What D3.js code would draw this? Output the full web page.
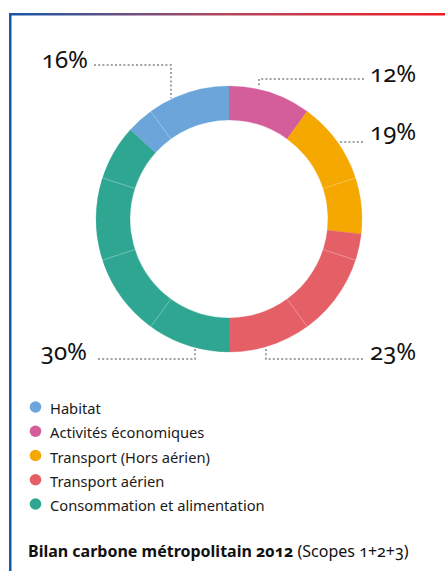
<!DOCTYPE html>
<html><head><meta charset="utf-8">
<script src="https://cdn.jsdelivr.net/npm/d3@7"></script>
<style>
html,body{margin:0;padding:0;background:#fff;}
svg{display:block;}
.pct{font-family:"Noto Sans";font-size:24px;fill:#111;font-variant-numeric:oldstyle-nums;font-feature-settings:"onum" 1;}
.leg{font-family:"Noto Sans";font-size:14.7px;fill:#1a1a1a;}
.ttl{font-family:"Noto Sans";font-size:16px;fill:#111;font-variant-numeric:oldstyle-nums;font-feature-settings:"onum" 1;}
</style></head>
<body>
<script>
// Categories in legend order
const categories = ["Habitat", "Activités économiques", "Transport (Hors aérien)", "Transport aérien", "Consommation et alimentation"];
const colors = ["#6ba5da", "#d45e9a", "#f5a800", "#e55f66", "#2fa692"];
// Printed percentage labels
const labelValues = [16, 12, 19, 23, 30];
// Arc shares as actually drawn in the ring
const arcShares = [13.3, 10, 16.8, 23.2, 36.7];
// Drawing order clockwise from 12 o'clock
const ringOrder = [1, 2, 3, 4, 0];
// Ring subdivided into ten equal ticks (faint separators)
const ringTicks = d3.range(10);
const titleBold = "Bilan carbone métropolitain 2012";
const titleRest = " (Scopes 1+2+3)";

const W = 445, H = 571;
const svg = d3.select("body").append("svg").attr("width", W).attr("height", H);

// frame
const grad = svg.append("defs").append("linearGradient").attr("id","g").attr("x1","0%").attr("x2","100%");
grad.append("stop").attr("offset","0%").attr("stop-color","#1658a8");
grad.append("stop").attr("offset","50%").attr("stop-color","#b5475e");
grad.append("stop").attr("offset","100%").attr("stop-color","#ee1c25");
svg.append("rect").attr("x",9).attr("y",13).attr("width",W-9).attr("height",2.5).attr("fill","url(#g)");
svg.append("rect").attr("x",9).attr("y",13).attr("width",2.5).attr("height",H-13).attr("fill","#1658a8");

const cx = 229, cy = 219, rO = 133, rI = 99;
const g = svg.append("g").attr("transform",`translate(${cx},${cy})`);

const pie = d3.pie().sort(null).value(i => arcShares[i]);
const arcs = pie(ringOrder);
const arc = d3.arc().innerRadius(rI).outerRadius(rO);
g.selectAll("path.seg").data(arcs).join("path").attr("class","seg")
  .attr("d", arc).attr("fill", d => colors[d.data]).attr("stroke", d => colors[d.data]).attr("stroke-width",0.3);

// faint separators every tenth of the ring (not where a category boundary falls)
const tickScale = d3.scaleLinear().domain([0,10]).range([0, 2*Math.PI]);
const bounds = arcs.map(a => a.startAngle);
const seps = ringTicks.filter(t => bounds.every(b => Math.abs(b - tickScale(t)) > 0.01));
g.selectAll("line.sep").data(seps).join("line").attr("class","sep")
  .attr("x1", t => rI*Math.sin(tickScale(t))).attr("y1", t => -rI*Math.cos(tickScale(t)))
  .attr("x2", t => rO*Math.sin(tickScale(t))).attr("y2", t => -rO*Math.cos(tickScale(t)))
  .attr("stroke","#ffffff").attr("stroke-opacity",0.45).attr("stroke-width",0.7);

// leader lines and labels (layout)
const ringY = (dx, sign) => cy + sign*Math.sqrt(rO*rO - dx*dx);
const layout = [
  {i:0, pts:[[94,65],[cx-58,65],[cx-58,ringY(-58,-1)-1]], tx:88, ty:68, anchor:"end"},
  {i:1, pts:[[364,79],[cx+30,79],[cx+30,86]], tx:370, ty:82, anchor:"start"},
  {i:2, pts:[[363,142],[338,142]], tx:370, ty:140, anchor:"start"},
  {i:4, pts:[[98,359],[cx-34,359],[cx-34,ringY(-34,1)+1]], tx:87, ty:360, anchor:"end"},
  {i:3, pts:[[363,359],[cx+37,359],[cx+37,ringY(37,1)+1]], tx:370, ty:360, anchor:"start"}
];
const line = d3.line();
svg.selectAll("path.lead").data(layout).join("path").attr("class","lead")
  .attr("d", d => line(d.pts)).attr("fill","none").attr("stroke","#a3a3a3")
  .attr("stroke-width",2).attr("stroke-dasharray","2 2.2");
svg.selectAll("text.pct").data(layout).join("text").attr("class","pct")
  .attr("x", d=>d.tx).attr("y", d=>d.ty).attr("text-anchor", d=>d.anchor)
  .text(d => labelValues[d.i] + "%");

// legend
const ly = d3.scalePoint().domain(categories).range([408, 505]);
const leg = svg.selectAll("g.legi").data(categories).join("g").attr("class","legi")
  .attr("transform", d => `translate(0,${ly(d)})`);
leg.append("circle").attr("cx",35.5).attr("cy",-1).attr("r",5.8).attr("fill",(d,i)=>colors[i]);
leg.append("text").attr("class","leg").attr("x",50).attr("y",6).text(d=>d);

// title
const t = svg.append("text").attr("class","ttl").attr("x",28).attr("y",557);
t.append("tspan").attr("font-weight","bold").text(titleBold);
t.append("tspan").text(titleRest);
</script>
</body></html>
